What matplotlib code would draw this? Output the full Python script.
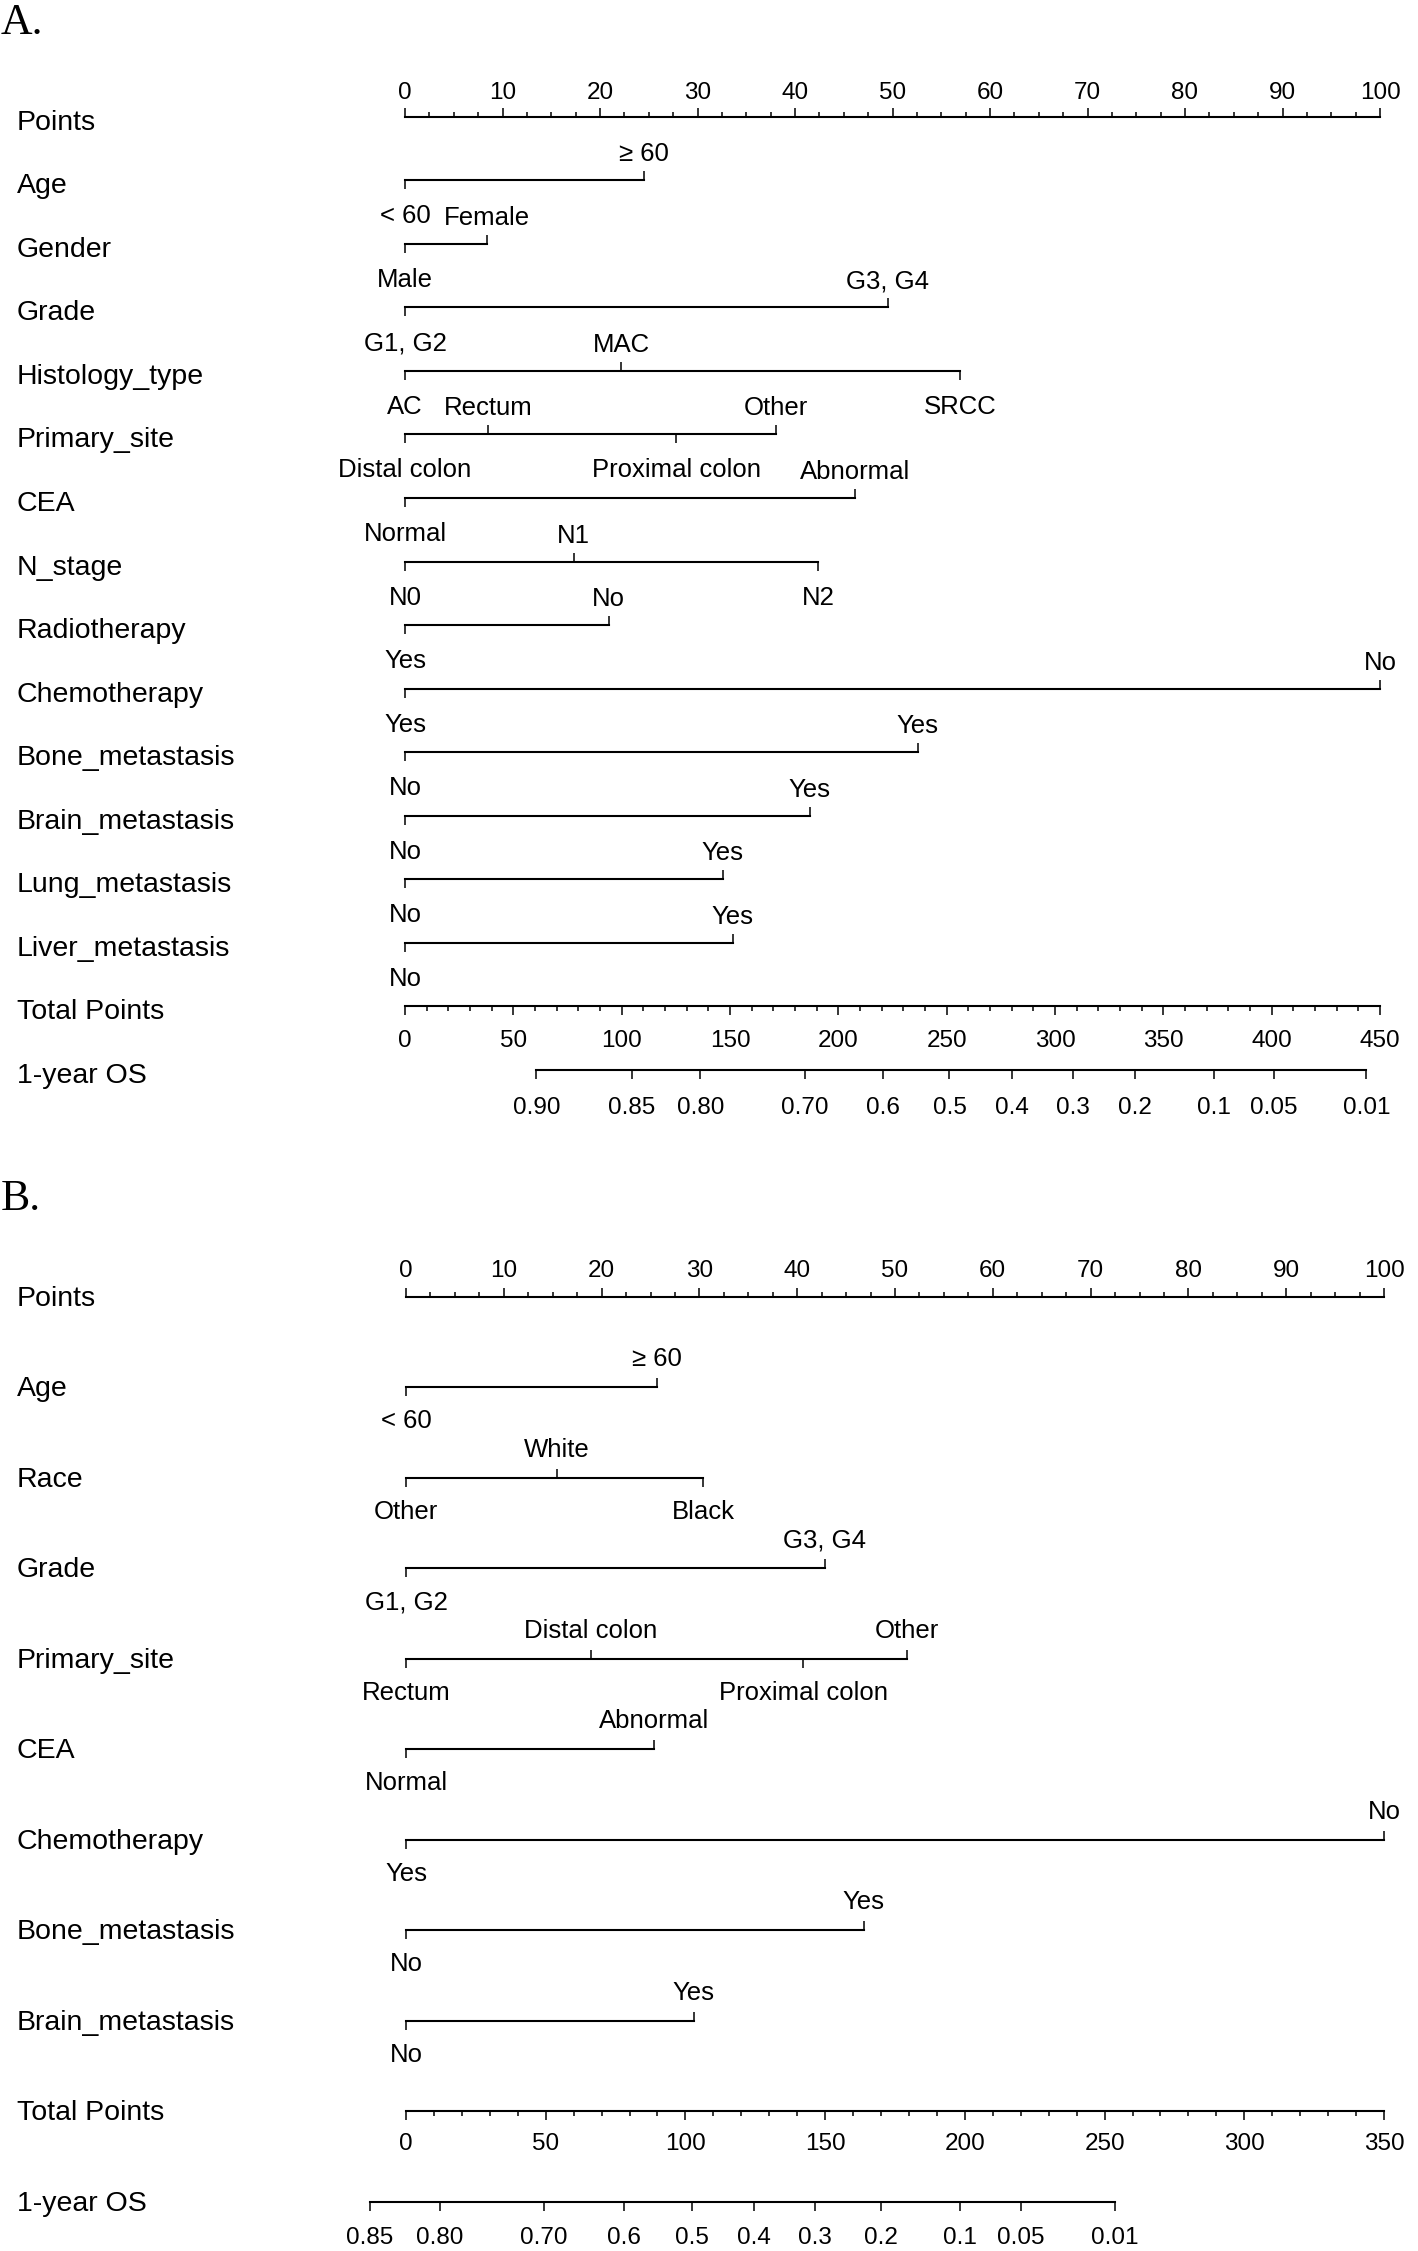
"""
Nomograms for 1-year overall survival (panels A and B).
"""

import numpy as np
import matplotlib
import matplotlib.pyplot as plt
from matplotlib import transforms

matplotlib.use("Agg")

plt.rcParams["font.family"] = ["Liberation Sans", "DejaVu Sans"]

W, H = 1418, 2251

# ---------------- Panel A ----------------
a_vars = ["Age", "Gender", "Grade", "Histology_type", "Primary_site", "CEA",
          "N_stage", "Radiotherapy", "Chemotherapy", "Bone_metastasis",
          "Brain_metastasis", "Lung_metastasis", "Liver_metastasis"]
a_levels = [["< 60", "≥ 60"], ["Male", "Female"], ["G1, G2", "G3, G4"],
            ["AC", "MAC", "SRCC"],
            ["Distal colon", "Rectum", "Proximal colon", "Other"],
            ["Normal", "Abnormal"], ["N0", "N1", "N2"], ["Yes", "No"],
            ["Yes", "No"], ["No", "Yes"], ["No", "Yes"], ["No", "Yes"],
            ["No", "Yes"]]
a_scores = [[0, 24.5], [0, 8.4], [0, 49.5], [0, 22.2, 56.9],
            [0, 8.5, 27.8, 38.0], [0, 46.2], [0, 17.3, 42.4], [0, 20.9],
            [0, 100], [0, 52.6], [0, 41.5], [0, 32.6], [0, 33.6]]
a_total_max = 450
a_os_labels = ["0.90", "0.85", "0.80", "0.70", "0.6", "0.5", "0.4", "0.3",
               "0.2", "0.1", "0.05", "0.01"]
a_os_total = [60.6, 104.6, 136.3, 184.4, 220.8, 251.3, 280.2, 308.2, 337.1,
              373.5, 401.1, 443.7]

# ---------------- Panel B ----------------
b_vars = ["Age", "Race", "Grade", "Primary_site", "CEA", "Chemotherapy",
          "Bone_metastasis", "Brain_metastasis"]
b_levels = [["< 60", "≥ 60"], ["Other", "White", "Black"],
            ["G1, G2", "G3, G4"],
            ["Rectum", "Distal colon", "Proximal colon", "Other"],
            ["Normal", "Abnormal"], ["Yes", "No"], ["No", "Yes"],
            ["No", "Yes"]]
b_scores = [[0, 25.7], [0, 15.4, 30.4], [0, 42.8], [0, 18.9, 40.6, 51.2],
            [0, 25.4], [0, 100], [0, 46.8], [0, 29.4]]
b_total_max = 350
b_os_labels = ["0.85", "0.80", "0.70", "0.6", "0.5", "0.4", "0.3", "0.2",
               "0.1", "0.05", "0.01"]
b_os_total = [-13.0, 12.0, 49.3, 78.1, 102.4, 124.4, 146.5, 170.1, 198.3,
              220.0, 253.7]

ROW_FS = 20.5
LEVEL_FS = 18.5
TICK_FS = 17.5
LW = 1.5
TICK_LEN = 6.5      # points
MINOR_LEN = 3.3


def add_ticks(ax, xs, y, up, length, lw=1.1):
    ax.plot(xs, [y] * len(xs), linestyle="none", marker=2 if up else 3,
            markersize=length, markeredgewidth=lw, color="black",
            clip_on=False)


def label(ax, x, y, text, dy, fs, shift):
    ax.annotate(text, xy=(x, y), xytext=(0, dy + shift),
                textcoords="offset pixels", ha="center", va="center",
                fontsize=fs, annotation_clip=False)


def draw_nomogram(fig, px_left, px_right, px_top, px_bottom, variables,
                  levels, scores, total_max, os_labels, os_total,
                  name_shift=-6, text_shift=-3):
    n_rows = len(variables) + 3
    step = (px_bottom - px_top) / (n_rows - 1)
    top = px_top - step / 2
    bottom = px_bottom + step / 2
    ax = fig.add_axes([px_left / W, 1 - bottom / H,
                       (px_right - px_left) / W, (bottom - top) / H])
    ax.set_xlim(0, 100)
    ax.set_ylim(n_rows - 0.5, -0.5)
    ax.axis("off")
    name_tr = transforms.blended_transform_factory(fig.transFigure,
                                                   ax.transData)

    def row_name(y, text):
        ax.annotate(text, xy=(17 / W, y), xycoords=name_tr,
                    xytext=(0, name_shift), textcoords="offset pixels",
                    ha="left", va="center", fontsize=ROW_FS,
                    annotation_clip=False)

    # Points scale
    row_name(0, "Points")
    ax.plot([0, 100], [0, 0], color="black", lw=LW, clip_on=False)
    major = np.arange(0, 101, 10)
    add_ticks(ax, major, 0, True, TICK_LEN)
    add_ticks(ax, np.setdiff1d(np.arange(0, 100.1, 2.5), major), 0, True,
              MINOR_LEN)
    for v in major:
        label(ax, v, 0, f"{v:d}", 27, TICK_FS, text_shift)

    # Predictors
    for i, (name, levs, pts) in enumerate(zip(variables, levels, scores)):
        y = i + 1
        row_name(y, name)
        ax.plot([min(pts), max(pts)], [y, y], color="black", lw=LW,
                clip_on=False)
        order = np.argsort(pts)
        for k, idx in enumerate(order):
            above = k % 2 == 1
            add_ticks(ax, [pts[idx]], y, above, TICK_LEN)
            label(ax, pts[idx], y, levs[idx], 29 if above else -33, LEVEL_FS,
                  text_shift)

    # Total points
    y = n_rows - 2
    scale = 100 / total_max
    row_name(y, "Total Points")
    ax.plot([0, 100], [y, y], color="black", lw=LW, clip_on=False)
    tmajor = np.arange(0, total_max + 1, 50)
    add_ticks(ax, tmajor * scale, y, False, TICK_LEN)
    add_ticks(ax, np.setdiff1d(np.arange(0, total_max + 1, 10), tmajor) * scale,
              y, False, MINOR_LEN)
    for v in tmajor:
        label(ax, v * scale, y, f"{v:d}", -32, TICK_FS, text_shift)

    # Survival probability
    y = n_rows - 1
    row_name(y, "1-year OS")
    xs = np.array(os_total) * scale
    ax.plot([xs.min(), xs.max()], [y, y], color="black", lw=LW, clip_on=False)
    add_ticks(ax, xs, y, False, TICK_LEN)
    for x, t in zip(xs, os_labels):
        label(ax, x, y, t, -35, TICK_FS, text_shift)
    return ax


fig = plt.figure(figsize=(W / 100, H / 100), dpi=100)

draw_nomogram(fig, 405, 1380, 116.7, 1070, a_vars, a_levels, a_scores,
              a_total_max, a_os_labels, a_os_total)
draw_nomogram(fig, 406, 1384, 1296.7, 2201.7, b_vars, b_levels, b_scores,
              b_total_max, b_os_labels, b_os_total,
              name_shift=-2, text_shift=-1)

for txt, base in [("A.", 34), ("B.", 1210)]:
    fig.text(1 / W, 1 - base / H, txt, family=["Liberation Serif"],
             fontsize=31.5, ha="left", va="baseline")

plt.savefig("out.png", dpi=100)
plt.close()
